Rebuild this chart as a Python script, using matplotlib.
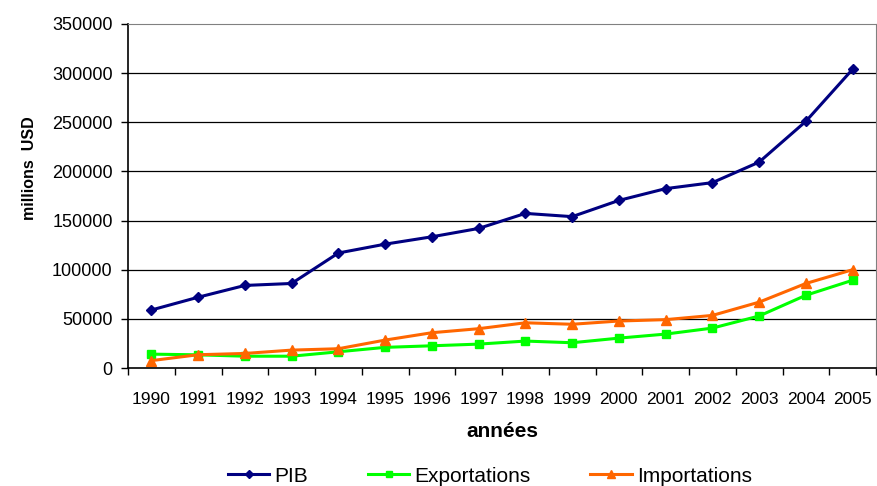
import numpy as np
import matplotlib.pyplot as plt

plt.rcParams['font.family'] = ['Liberation Sans', 'DejaVu Sans']

annees = ['1990', '1991', '1992', '1993', '1994', '1995', '1996', '1997',
          '1998', '1999', '2000', '2001', '2002', '2003', '2004', '2005']
pib = [59000, 72000, 84000, 86000, 117000, 126000, 133500, 142000,
       157300, 154000, 170500, 182500, 188600, 209500, 251000, 304000]
exportations = [14100, 13400, 12000, 12000, 16500, 21000, 22600, 24300,
                27400, 25700, 30400, 34500, 40600, 52900, 74000, 89300]
importations = [7500, 13500, 14800, 18200, 19600, 28400, 35900, 40000,
                46000, 44500, 47800, 49200, 53500, 67000, 86000, 100000]

fig = plt.figure(figsize=(8.77, 4.86), dpi=100)
ax = fig.add_axes([128 / 877, 1 - 368 / 486, 748 / 877, 344 / 486])

x = np.arange(len(annees))
ax.plot(x, pib, color='#000080', lw=2.2, marker='D', ms=5.5, label='PIB')
ax.plot(x, exportations, color='#00FF00', lw=2.2, marker='s', ms=6, label='Exportations')
ax.plot(x, importations, color='#FF6600', lw=2.2, marker='^', ms=7.5, label='Importations')

ax.set_xlim(-0.5, len(annees) - 0.5)
ax.set_ylim(0, 350000)
ax.set_yticks(range(0, 350001, 50000))
ax.set_xticks(x)
ax.set_xticklabels(annees)
ax.set_xticks(np.arange(-0.5, len(annees), 1), minor=True)
ax.tick_params(axis='x', which='major', length=0, labelsize=12.5, pad=17)
ax.tick_params(axis='x', which='minor', length=5, width=1, direction='out')
ax.tick_params(axis='y', length=5, width=1, direction='out', labelsize=13, pad=6)

for yv in range(50000, 300001, 50000):
    ax.axhline(yv, color='black', lw=0.9, zorder=0)

ax.spines['top'].set_color('#808080')
ax.spines['right'].set_color('#808080')
ax.spines['left'].set_linewidth(1.2)
ax.spines['bottom'].set_linewidth(1.2)

ax.set_xlabel('années', fontsize=15, fontweight='bold')
ax.xaxis.set_label_coords(0.5, -0.158)
ax.set_ylabel('millions  USD', fontsize=11.5, fontweight='bold')
ax.yaxis.set_label_coords(-0.122, 0.58)

fig.legend(loc='center', bbox_to_anchor=(490 / 877, 1 - 476 / 486), ncol=3,
           frameon=False, fontsize=15, handlelength=2.0, columnspacing=2.85,
           handletextpad=0.25, markerscale=0.8, borderpad=0)

fig.savefig('out.png', dpi=100)
